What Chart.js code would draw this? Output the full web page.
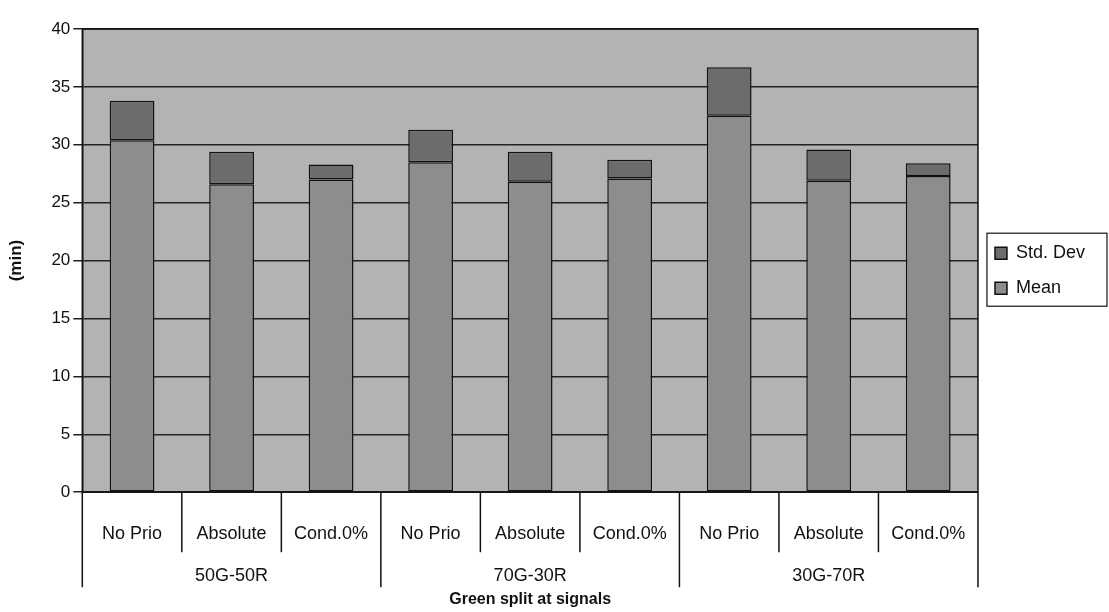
<!DOCTYPE html>
<html>
<head>
<meta charset="utf-8">
<script src="https://cdn.jsdelivr.net/npm/chart.js@4.4.1/dist/chart.umd.min.js"></script>
<style>
    html, body { margin: 0; padding: 0; background: #fff; }
    #wrap { width: 1109px; height: 612px; }
</style>
</head>
<body>
<div id="wrap"><canvas id="chart"></canvas></div>
<script>
var categories = ['No Prio', 'Absolute', 'Cond.0%', 'No Prio', 'Absolute', 'Cond.0%', 'No Prio', 'Absolute', 'Cond.0%'];
var groups = ['50G-50R', '70G-30R', '30G-70R'];
var meanValues = [30.4, 26.6, 27.0, 28.5, 26.8, 27.1, 32.5, 26.9, 27.3];
var stdValues = [3.4, 2.8, 1.3, 2.8, 2.6, 1.6, 4.2, 2.7, 1.1];
var yTicks = [0, 5, 10, 15, 20, 25, 30, 35, 40];

var fontName = '"Liberation Sans", Arial, sans-serif';

// grey plot background, frame, category dividers, group labels, legend box
var excelLook = {
    id: 'excelLook',
    beforeDraw: function(chart){
        var a = chart.chartArea, ctx = chart.ctx;
        ctx.save();
        ctx.fillStyle = '#b3b3b3';
        ctx.fillRect(a.left, a.top, a.right - a.left, a.bottom - a.top);
        ctx.restore();
    },
    afterDraw: function(chart){
        var a = chart.chartArea, ctx = chart.ctx;
        var x = chart.scales.x;
        ctx.save();
        ctx.strokeStyle = '#111';
        ctx.lineWidth = 1.5;
        ctx.strokeRect(a.left, a.top, a.right - a.left, a.bottom - a.top);

        var step = (a.right - a.left) / categories.length;
        for(var i = 0; i <= categories.length; i++){
            var px = a.left + i * step;
            var len = (i % 3 == 0) ? 95 : 60;
            ctx.beginPath();
            ctx.moveTo(px, a.bottom);
            ctx.lineTo(px, a.bottom + len);
            ctx.stroke();
        }

        ctx.fillStyle = '#111';
        ctx.font = '18px ' + fontName;
        ctx.textAlign = 'center';
        ctx.textBaseline = 'middle';
        for(var g = 0; g < groups.length; g++){
            var cx = x.getPixelForValue(g * 3 + 1);
            ctx.fillText(groups[g], cx, a.bottom + 84);
        }

        var boxes = chart.legend.legendHitBoxes;
        if(boxes && boxes.length){
            var l = 1e9, t = 1e9, b = 0;
            boxes.forEach(function(h){
                l = Math.min(l, h.left); t = Math.min(t, h.top);
                b = Math.max(b, h.top + h.height);
            });
            ctx.lineWidth = 1.2;
            ctx.strokeRect(l - 8, t - 11, 1107 - (l - 8), b - t + 20);
        }
        ctx.restore();
    }
};

var ctx = document.getElementById('chart');
var myChart = new Chart(ctx, {
    type: 'bar',
    data: {
        labels: categories,
        datasets: [
            {
                label: 'Mean',
                data: meanValues,
                backgroundColor: '#8d8d8d',
                borderColor: '#111',
                borderWidth: 1.5,
                borderSkipped: false
            },
            {
                label: 'Std. Dev',
                data: stdValues,
                backgroundColor: '#6c6c6c',
                borderColor: '#111',
                borderWidth: 1.5,
                borderSkipped: false
            }
        ]
    },
    options: {
        responsive: true,
        maintainAspectRatio: false,
        animation: false,
        layout: {
            padding: {top: 29, left: 4, right: 14, bottom: 0}
        },
        datasets: {
            bar: {categoryPercentage: 0.45, barPercentage: 1}
        },
        plugins: {
            legend: {
                position: 'right',
                align: 'start',
                reverse: true,
                title: {
                    display: true,
                    text: ' ',
                    font: {size: 1},
                    padding: {top: 197, bottom: 0}
                },
                labels: {
                    color: '#111',
                    font: {family: fontName, size: 18},
                    boxWidth: 12,
                    boxHeight: 12,
                    padding: 17
                }
            },
            tooltip: {enabled: false}
        },
        scales: {
            x: {
                stacked: true,
                grid: {display: false, drawTicks: false},
                border: {display: false},
                ticks: {
                    color: '#111',
                    font: {family: fontName, size: 18},
                    padding: 31,
                    maxRotation: 0,
                    autoSkip: false
                },
                title: {
                    display: true,
                    text: 'Green split at signals',
                    color: '#111',
                    font: {family: fontName, size: 16, weight: 'bold'},
                    padding: {top: 14, bottom: 3}
                }
            },
            y: {
                stacked: true,
                min: 0,
                max: 40,
                afterBuildTicks: function(axis){
                    axis.ticks = yTicks.map(function(v){ return {value: v}; });
                },
                grid: {color: '#222', lineWidth: 1.5, tickLength: 9},
                border: {display: true, color: '#111', width: 1.5},
                ticks: {
                    color: '#111',
                    font: {family: fontName, size: 17},
                    padding: 3
                },
                title: {
                    display: true,
                    text: '(min)',
                    color: '#111',
                    font: {family: fontName, size: 17, weight: 'bold'},
                    padding: {top: 2, bottom: 22}
                }
            }
        }
    },
    plugins: [excelLook]
});
</script>
</body>
</html>
